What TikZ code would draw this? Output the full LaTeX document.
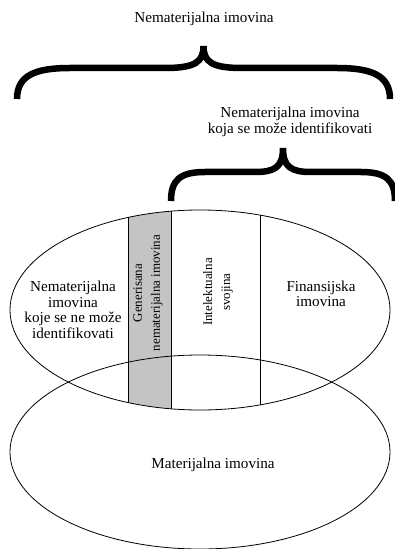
\documentclass[tikz,border=0pt]{standalone}
\usepackage{fontspec}
\setmainfont{Liberation Serif}
\usetikzlibrary{shapes.geometric}
\definecolor{colgray}{RGB}{196,196,196}
\tikzset{
  brace/.style={line width=6.5bp, black},
  thin/.style={line width=0.8bp, black},
  lbl/.style={align=center, inner sep=0pt, font=\fontsize{15.2}{15.6}\selectfont},
  rlbl/.style={align=center, inner sep=0pt, rotate=90, font=\fontsize{13}{18}\selectfont},
  oval/.style={ellipse, draw, line width=0.8bp, inner sep=0pt, minimum width=380bp},
}
\begin{document}
\begin{tikzpicture}[x=1bp,y=-1bp]
\useasboundingbox (0,0) rectangle (394,549);
% gray column and column lines clipped to upper ellipse
\begin{scope}
  \clip (200,310) ellipse [x radius=190bp, y radius=100bp];
  \fill[colgray] (128,200) rectangle (171,420);
  \draw[thin] (128,200) -- (128,420);
  \draw[thin] (171,200) -- (171,420);
  \draw[thin] (260,200) -- (260,420);
\end{scope}
\node[oval, minimum height=200bp] (upper) at (200,310) {};
\node[oval, minimum height=194bp] (lower) at (200,452) {};
% braces
\draw[brace] (17,99) .. controls (17,75) and (36,68) .. (70,68) -- (165,68)
  .. controls (195,68) and (203.5,62) .. (203.5,46)
  .. controls (203.5,62) and (212,68) .. (242,68) -- (337,68)
  .. controls (371,68) and (390,75) .. (390,99);
\draw[brace] (171,201) .. controls (171,180) and (180,172) .. (205,172) -- (255,172)
  .. controls (275,172) and (283,167) .. (283,148)
  .. controls (283,167) and (291,172) .. (311,172) -- (361,172)
  .. controls (386,172) and (395,180) .. (395,201);
% labels
\node[lbl] (all) at (204,19) {Nematerijalna imovina};
\node[lbl] (ident) at (290,122) {Nematerijalna imovina\\koja se može identifikovati};
\node[lbl] (nonident) at (73,310) {Nematerijalna\\imovina\\koje se ne može\\identifikovati};
\node[rlbl] (gen) at (148,293) {Generisana\\nematerijalna imovina};
\node[rlbl] (intel) at (218,292) {Intelektualna\\svojina};
\node[lbl] (fin) at (321,294) {Finansijska\\imovina};
\node[lbl] (mat) at (213,465) {Materijalna imovina};
\end{tikzpicture}
\end{document}
